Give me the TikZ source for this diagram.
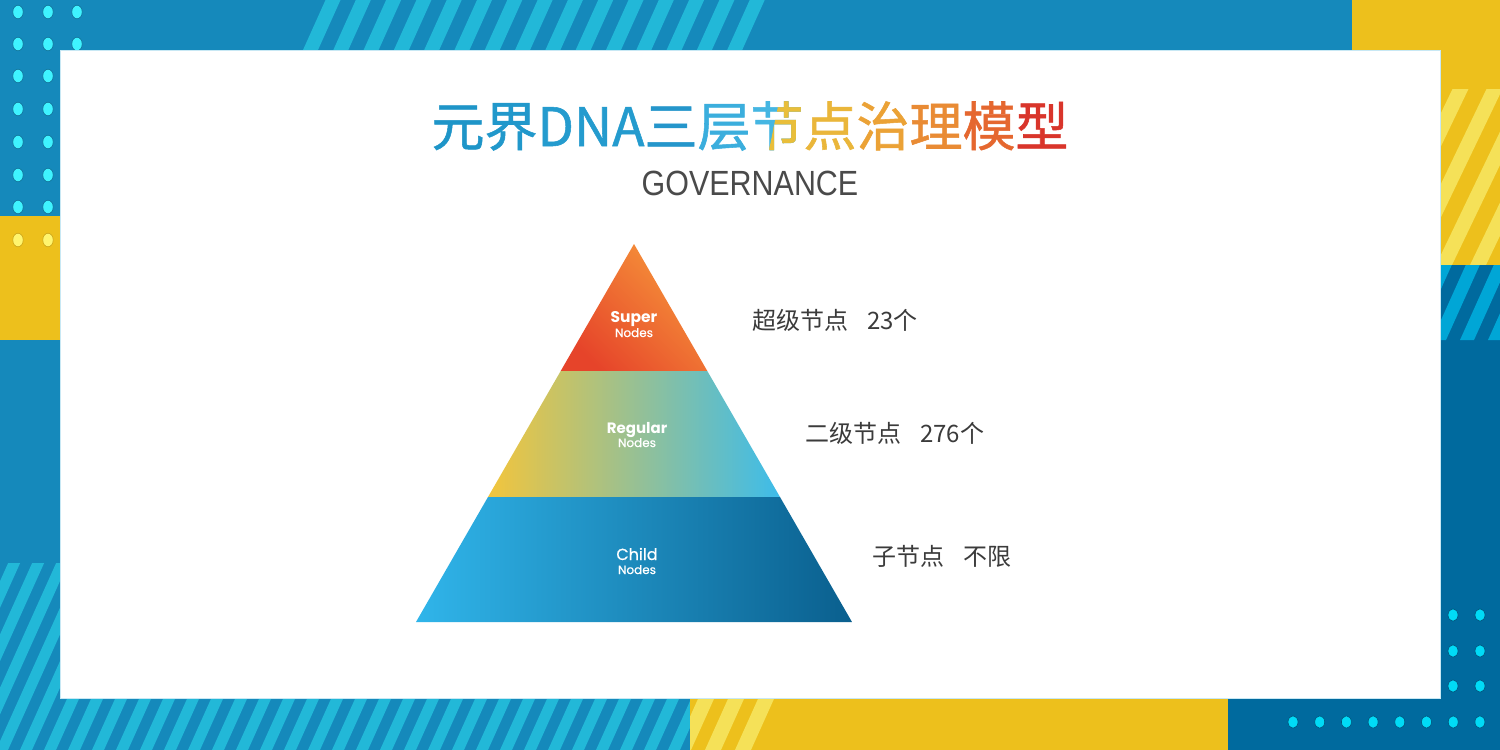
\documentclass[tikz,border=0pt]{standalone}
\usepackage{fontspec}
\usepackage{graphicx}
\newfontfamily\cjk{Noto Sans CJK SC}
\newfontfamily\cjkt[FakeBold=1.0]{Noto Sans CJK SC}
\newfontfamily\pop{Poppins}
\newfontfamily\popm[FakeBold=0.6]{Poppins}
\newfontfamily\lib{Liberation Sans}
\definecolor{bgblue}{HTML}{1589BB}
\definecolor{stcyan}{HTML}{22B8D8}
\definecolor{ylw}{HTML}{EDC01C}
\definecolor{ylwlt}{HTML}{F5E158}
\definecolor{dkblue}{HTML}{006A9E}
\definecolor{dkstripe}{HTML}{00A6D6}
\definecolor{dotcyan}{HTML}{3FF3FF}
\definecolor{dotcyan2}{HTML}{00DBF7}
\definecolor{dotylw}{HTML}{FFF56E}
\definecolor{txtgray}{HTML}{3B3B3B}
\definecolor{govgray}{HTML}{4A4A4A}
\definecolor{ca}{HTML}{1E95C8}
\definecolor{cb}{HTML}{2198CB}
\definecolor{cc}{HTML}{249BCE}
\definecolor{cd}{HTML}{2596CB}
\definecolor{ce}{HTML}{3BAEDD}
\definecolor{cf}{HTML}{45B6E2}
\definecolor{cfy}{HTML}{E9BE3A}
\definecolor{cg}{HTML}{EAB63A}
\definecolor{ch}{HTML}{EBA236}
\definecolor{ci}{HTML}{E98B34}
\definecolor{cj}{HTML}{E5672F}
\definecolor{ck}{HTML}{D9352B}
\newcommand\mystripes[8]{%
  \pgfmathsetmacro\myshift{#7*(#6-#5)}%
  \foreach \i in {0,...,#2}{%
    \pgfmathsetmacro\xa{#1+\i*#3}%
    \fill[#8] (\xa,#6) -- ++(#4,0) -- ++(\myshift,#5-#6) -- ++(-#4,0) -- cycle;
  }}
\tikzset{
  ttl/.style={inner sep=0pt, outer sep=0pt, font=\cjkt\fontsize{53}{60}\selectfont, anchor=base west},
  dotc/.style={fill=dotcyan, draw=bgblue!80!black, line width=0.6pt},
  dotd/.style={fill=dotcyan2, draw=dkblue!80!black, line width=0.6pt},
  doty/.style={fill=dotylw, draw=ylw!85!black, line width=0.6pt},
  lbl/.style={inner sep=0pt, anchor=base west, text=txtgray, font=\cjk\fontsize{24}{28}\selectfont},
  pbig/.style={inner sep=0pt, anchor=base, text=white},
}
\begin{document}
\begin{tikzpicture}[x=1pt,y=-1pt]
\useasboundingbox (0,0) rectangle (1500,750);
% background
\fill[bgblue] (0,0) rectangle (1500,750);
% top stripes
\begin{scope}
\clip (0,0) rectangle (1500,50);
\mystripes{303}{14}{30.3}{15}{0}{50}{0.45}{stcyan}
\end{scope}
% yellow top right / right column
\fill[ylw] (1352,0) rectangle (1500,265);
\begin{scope}
\clip (1440,89) rectangle (1500,265);
\mystripes{1334}{5}{34}{16}{89}{265}{0.48}{ylwlt}
\end{scope}
% dark blue right column and bottom right
\fill[dkblue] (1440,265) rectangle (1500,750);
\fill[dkblue] (1228,698) rectangle (1500,750);
\begin{scope}
\clip (1440,265) rectangle (1500,340);
\mystripes{1404}{4}{28}{14}{265}{340}{0.45}{dkstripe}
\end{scope}
% left yellow block
\fill[ylw] (0,216) rectangle (60,340);
% left/bottom stripes
\begin{scope}
\clip (0,563) rectangle (60,750) (0,698) rectangle (690,750);
\mystripes{-100}{33}{24}{12}{563}{750}{0.45}{stcyan}
\end{scope}
% bottom yellow
\fill[ylw] (690,698) rectangle (1228,750);
\begin{scope}
\clip (690,698) rectangle (1228,750);
\mystripes{675}{2}{30}{16}{698}{750}{0.45}{ylwlt}
\end{scope}
% dots top-left
\foreach \yy in {12,44,76,109,142,175,207}{
  \fill[dotc] (18,\yy) ellipse [x radius=5.2, y radius=6.8];
  \fill[dotc] (48,\yy) ellipse [x radius=5.2, y radius=6.8];
}
\foreach \yy in {12,44}{
  \fill[dotc] (77,\yy) ellipse [x radius=5.2, y radius=6.8];
}
\foreach \xx in {18,48}{
  \fill[doty] (\xx,240) ellipse [x radius=5.2, y radius=6.8];
}
% dots bottom-right
\foreach \yy in {615,651,686}{
  \fill[dotd] (1453,\yy) ellipse [x radius=5, y radius=6.2];
  \fill[dotd] (1480,\yy) ellipse [x radius=5, y radius=6.2];
}
\foreach \k in {0,...,7}{
  \fill[dotd] (1293+\k*26.7,722) ellipse [x radius=5, y radius=6.2];
}
% white panel
\fill[white, draw={rgb,255:red,200;green,232;blue,244}, line width=1pt] (60,50) rectangle (1440,698);

% title
\node[ttl, anchor=base, text opacity=0] (title) at (750,146) {元界DNA三层节点治理模型};
\node[ttl, text=ca] (t1) at (title.base west) {元};
\node[ttl, text=cb] (t2) at (t1.base east) {界};
\node[ttl, text=cc] (t3) at (t2.base east) {DNA};
\node[ttl, text=cd] (t4) at (t3.base east) {三};
\node[ttl, text=ce] (t5) at (t4.base east) {层};
\node[ttl, text=cf] (t6) at (t5.base east) {节};
\begin{scope}
\clip ([xshift=2pt]t6.north) -- (t6.north east) -- (t6.south east) -- ([xshift=-8pt]t6.south) -- cycle;
\node[ttl, text=cfy] (t6y) at (t6.base west) {节};
\end{scope}
\node[ttl, text=cg] (t7) at (t6.base east) {点};
\node[ttl, text=ch] (t8) at (t7.base east) {治};
\node[ttl, text=ci] (t9) at (t8.base east) {理};
\node[ttl, text=cj] (t10) at (t9.base east) {模};
\node[ttl, text=ck] (t11) at (t10.base east) {型};
\node[inner sep=0pt, anchor=base, text=govgray, font=\lib\fontsize{35}{40}\selectfont] (gov) at (750,195) {\scalebox{0.87}[1]{GOVERNANCE}};

% pyramid
\shade[bottom color={rgb,255:red,230;green,68;blue,42}, top color={rgb,255:red,246;green,150;blue,58}, shading angle=-45]
  (634,244) -- (707.3,371) -- (560.7,371) -- cycle;
\shade[left color={rgb,255:red,243;green,197;blue,60}, middle color={rgb,255:red,157;green,194;blue,143}, right color={rgb,255:red,61;green,188;blue,234}]
  (560.7,371) -- (707.3,371) -- (780,497) -- (488,497) -- cycle;
\shade[left color={rgb,255:red,48;green,181;blue,234}, middle color={rgb,255:red,28;green,140;blue,190}, right color={rgb,255:red,10;green,95;blue,142}]
  (488,497) -- (780,497) -- (852,622) -- (416,622) -- cycle;

\node[pbig, font=\pop\bfseries\fontsize{15.5}{18}\selectfont] (sup) at (634,322) {Super};
\node[pbig, font=\popm\fontsize{12}{14}\selectfont] (supn) at (634,337) {Nodes};
\node[pbig, font=\pop\bfseries\fontsize{15}{18}\selectfont] (reg) at (637,433) {Regular};
\node[pbig, font=\popm\fontsize{12}{14}\selectfont] (regn) at (637,447) {Nodes};
\node[pbig, font=\popm\fontsize{16}{18}\selectfont] (chi) at (637,560) {Child};
\node[pbig, font=\popm\fontsize{12}{14}\selectfont] (chin) at (637,574) {Nodes};

% right labels
\node[lbl] (l1) at (752,329) {超级节点\hspace{19pt}23个};
\node[lbl] (l2) at (805,442) {二级节点\hspace{19pt}276个};
\node[lbl] (l3) at (872,565) {子节点\hspace{19pt}不限};
\end{tikzpicture}
\end{document}
